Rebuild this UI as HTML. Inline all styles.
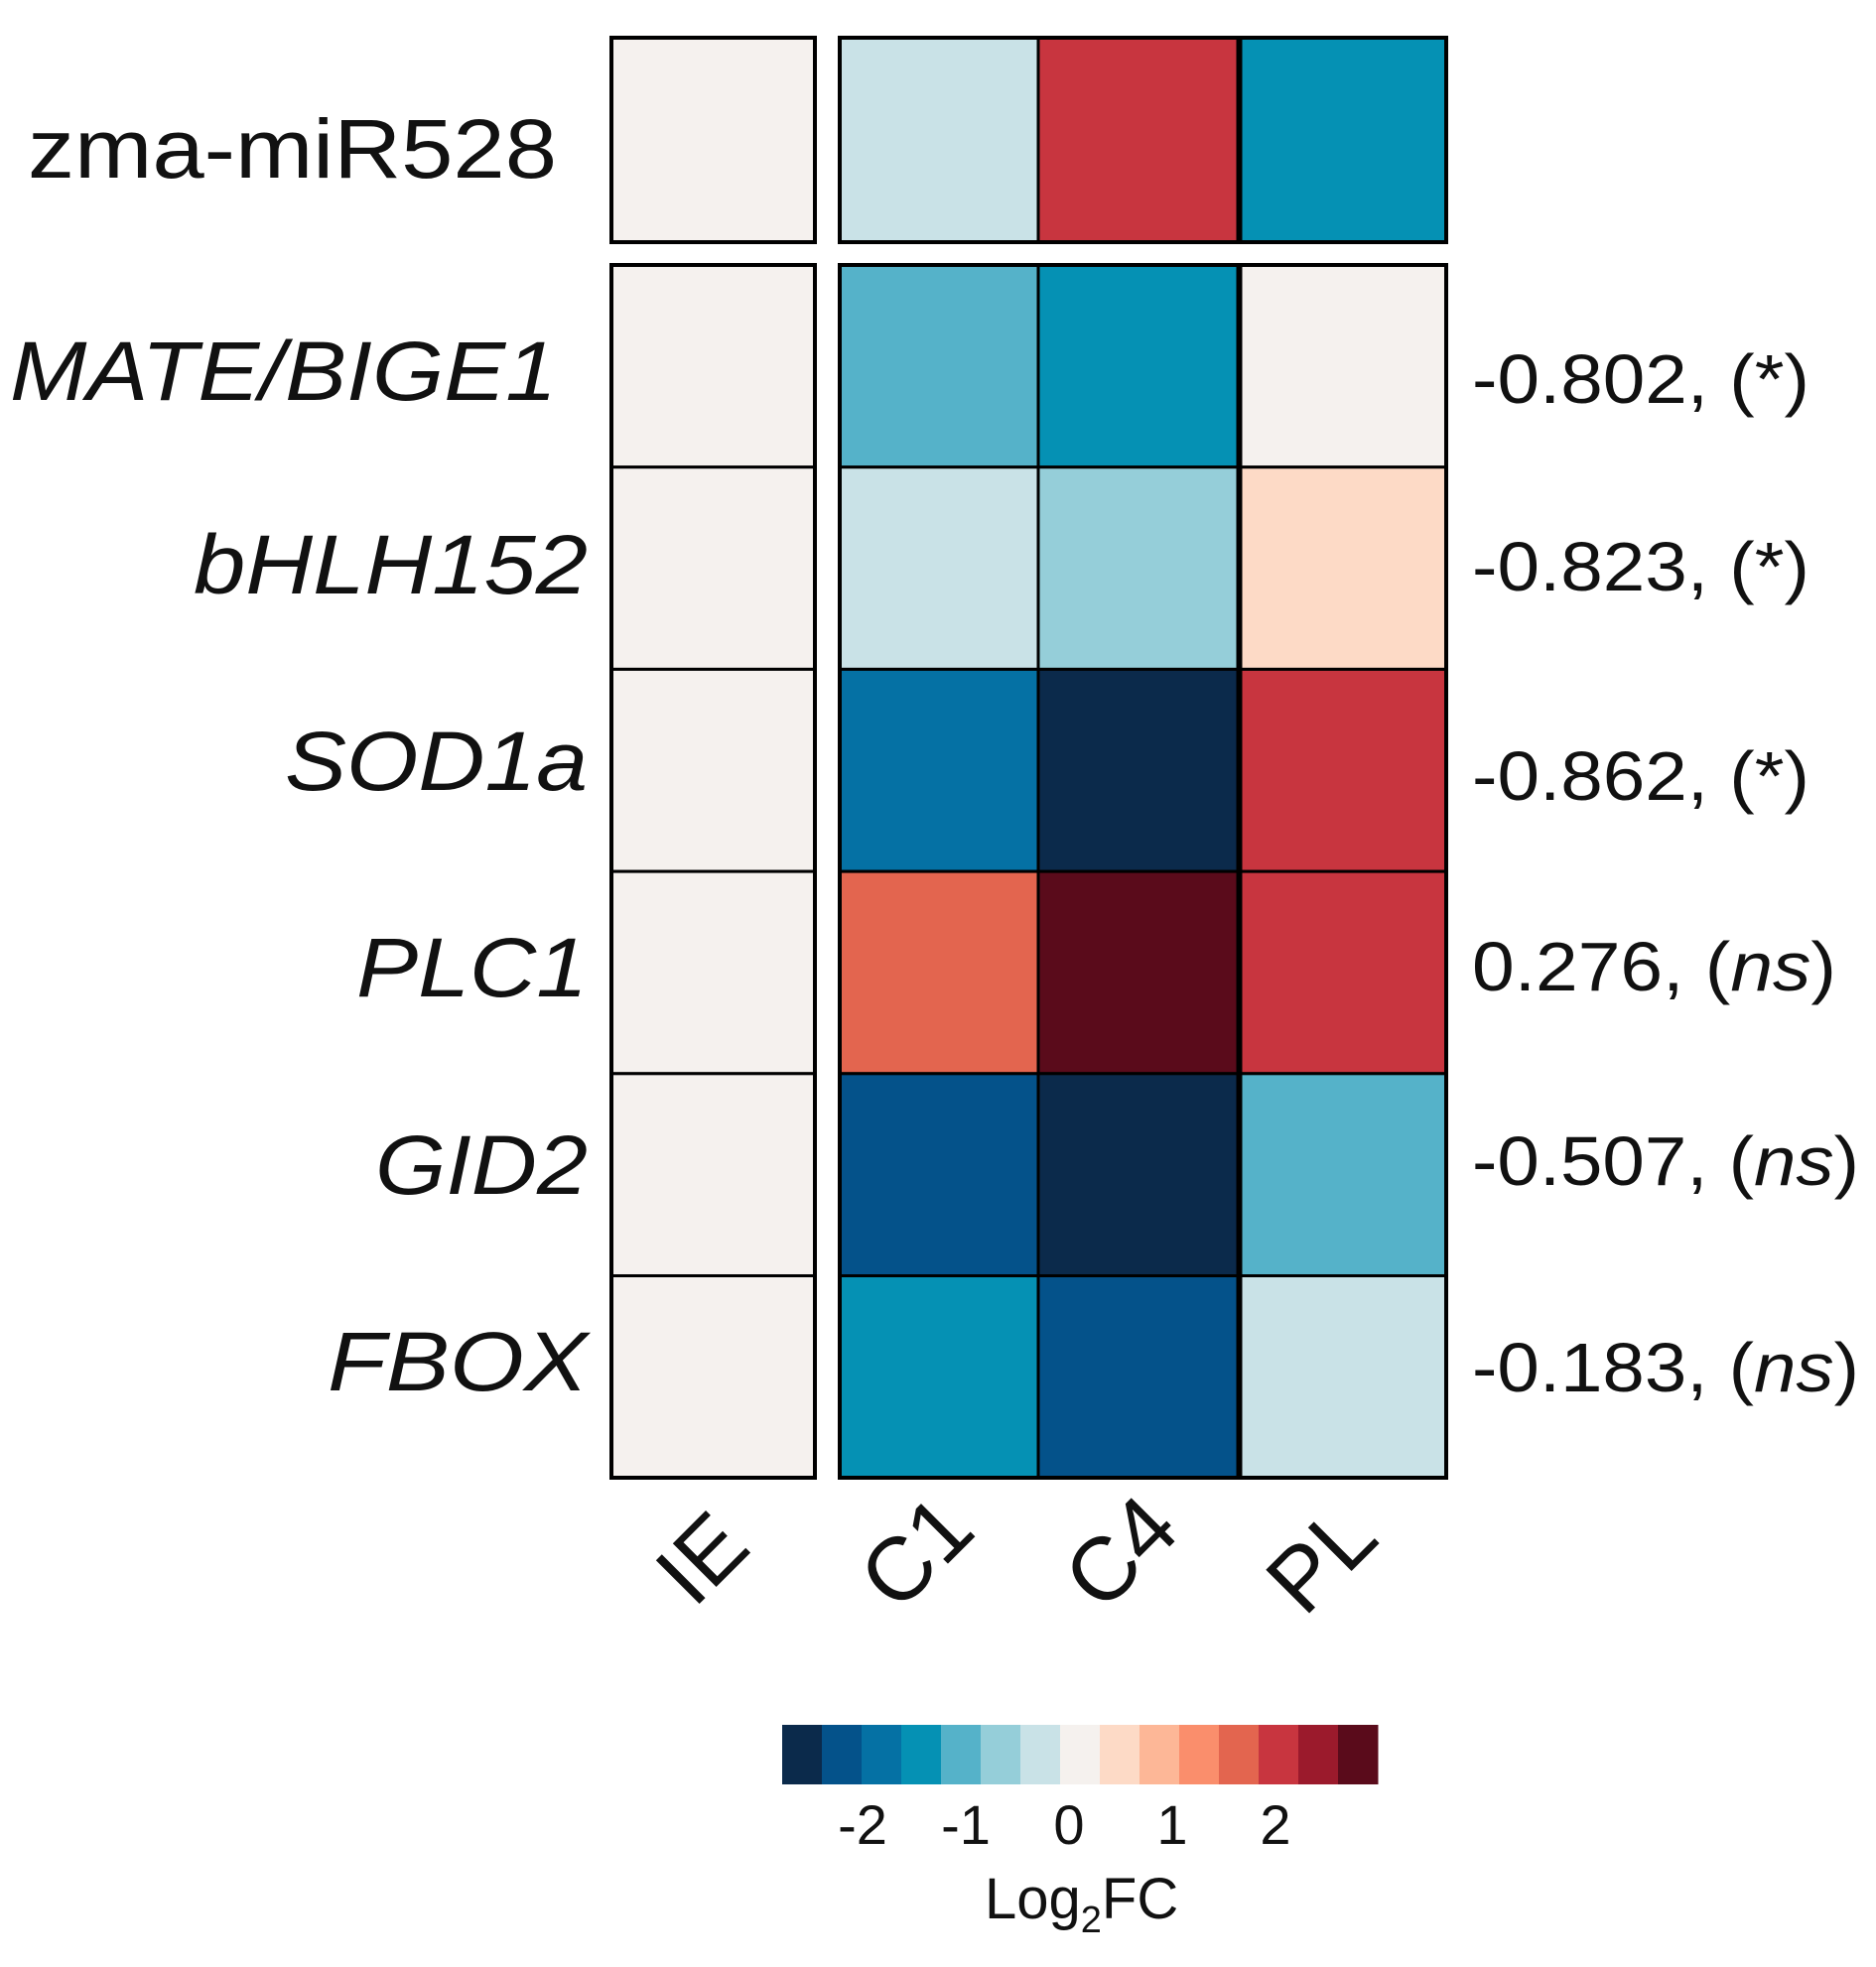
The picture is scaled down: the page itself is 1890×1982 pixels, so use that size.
<!DOCTYPE html>
<html><head><meta charset="utf-8">
<style>
html,body{margin:0;padding:0;background:#fff;}
svg{display:block;font-family:"Liberation Sans",Arial,sans-serif;}
</style></head>
<body>
<svg id="chart" width="1890" height="1982" viewBox="0 0 1890 1982" xmlns="http://www.w3.org/2000/svg">
<g id="cells"></g>
<g id="labels"></g>
<g id="legend"></g>
</svg>
<script>
const genes = ["zma-miR528","MATE/BIGE1","bHLH152","SOD1a","PLC1","GID2","FBOX"];
const conditions = ["IE","C1","C4","PL"];
const valsIE = [0,0,0,0,0,0,0];
const valsC1 = [-0.4,-1.15,-0.4,-1.9,1.5,-2.3,-1.5];
const valsC4 = [1.9,-1.5,-0.75,-3,3,-3,-2.3];
const valsPL = [-1.5,0,0.4,1.9,1.9,-1.15,-0.4];
const corrValues = [null,"-0.802","-0.823","-0.862","0.276","-0.507","-0.183"];
const corrSig = [null,"*","*","*","ns","ns","ns"];
const legendTicks = [-2,-1,0,1,2];
const palette = ["#0b2a4b","#04528a","#0571a4","#0591b4","#55b2c9","#95ced9","#c9e2e7","#f5f1ee","#fddac6","#fdb797","#fa8e6c","#e3654f","#c8353f","#9b1a2c","#5a0b1b"];

const NS="http://www.w3.org/2000/svg";
function mk(tag,attrs,parent){const e=document.createElementNS(NS,tag);for(const k in attrs)e.setAttribute(k,attrs[k]);parent.appendChild(e);return e;}
function colorOf(v){let b=Math.floor(7.5+v*2.6);b=Math.max(0,Math.min(14,b));return palette[b];}
const colX=[616,846,1046,1250];
const colW=[205,200,201,207];
function rowY(i){return i===0?38:267+(i-1)*203.7;}
function rowH(i){return i===0?206:203.7;}
const series=[valsIE,valsC1,valsC4,valsPL];
const cells=document.getElementById('cells');
for(let c=0;c<4;c++){for(let r=0;r<genes.length;r++){
  const rect=mk('rect',{x:colX[c],y:rowY(r),width:colW[c],height:rowH(r),fill:colorOf(series[c][r]),stroke:'#000','stroke-width':3},cells);
  
  
}}
[[616,38,205,206],[846,38,611,206],[616,267,205,1222],[846,267,611,1222]].forEach((b,i)=>{
  const e=mk('rect',{x:b[0],y:b[1],width:b[2],height:b[3],fill:'none',stroke:'#000','stroke-width':4},cells);
  
  
});
const labels=document.getElementById('labels');
const lblBase=[179,403,598,796,1004,1203,1401];
const lblStart=[28,10,195,287,359,378,330];
const lblEnd=[561,561,592,592,592,592,592];
genes.forEach((g,i)=>{
  const t=mk('text',{x:lblStart[i],y:lblBase[i],'font-size':84,fill:'#111',textLength:lblEnd[i]-lblStart[i],lengthAdjust:'spacingAndGlyphs'},labels);
  if(i>0)t.setAttribute('font-style','italic');
  t.textContent=g;
  
  
});
const corrBase=[0,406,595,806,998,1194,1402];
const corrLen=[0,340,340,340,367,390,390];
for(let i=1;i<genes.length;i++){
  const t=mk('text',{x:1483,y:corrBase[i],'font-size':70,fill:'#111',textLength:corrLen[i],lengthAdjust:'spacingAndGlyphs'},labels);
  t.appendChild(document.createTextNode(corrValues[i]+", ("));
  const s=mk('tspan',{},t); s.textContent=corrSig[i]; if(corrSig[i]==='ns')s.setAttribute('font-style','italic');
  t.appendChild(document.createTextNode(")"));
  
  
}
const colLblPos=[[712,1575],[928,1569],[1134,1569],[1336,1575]];
conditions.forEach((c,i)=>{
  const t=mk('text',{x:colLblPos[i][0],y:colLblPos[i][1],'font-size':90,'text-anchor':'middle','dominant-baseline':'middle',fill:'#111',transform:`rotate(-45 ${colLblPos[i][0]} ${colLblPos[i][1]})`},labels);
  t.textContent=c;
  
  
});
const legend=document.getElementById('legend');
palette.forEach((p,i)=>{
  const r=mk('rect',{x:788+i*40,y:1738,width:40.5,height:60,fill:p},legend);
  
  
});
function legX(v){return 1077+v*104;}
legendTicks.forEach(v=>{
  const t=mk('text',{x:legX(v),y:1858,'font-size':56,'text-anchor':'middle',fill:'#111'},legend);
  t.textContent=v;
  
  
});
const ttl=mk('text',{x:992,y:1933,'font-size':58,fill:'#111'},legend);
ttl.appendChild(document.createTextNode('Log'));
const sub=mk('tspan',{'font-size':38,dy:14},ttl); sub.textContent='2';
const fc=mk('tspan',{dy:-14},ttl); fc.textContent='FC';


</script>
</body></html>
